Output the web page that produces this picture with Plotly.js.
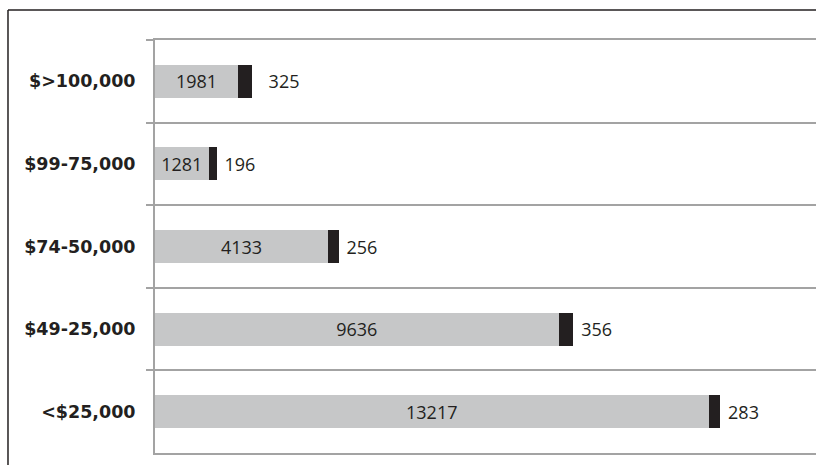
<!DOCTYPE html>
<html>
<head>
<meta charset="utf-8">
<script src="https://cdn.plot.ly/plotly-3.0.1.min.js"></script>
<style>
  html, body { margin: 0; padding: 0; background: #ffffff; }
  #chart { width: 816px; height: 465px; }
</style>
</head>
<body>
<div id="chart"></div>
<script>
const categories = ["$>100,000", "$99-75,000", "$74-50,000", "$49-25,000", "<$25,000"];
const greyValues = [1981, 1281, 4133, 9636, 13217];
const blackValues = [325, 196, 256, 356, 283];
const blackLabels = ["\u00a0\u00a0\u00a0325", "\u00a0196", "\u00a0256", "\u00a0356", "\u00a0283"];

const textFont = { family: "Open Sans, sans-serif", size: 18, color: "#231f20" };

const traces = [
  {
    type: "bar",
    orientation: "h",
    y: categories,
    x: greyValues,
    marker: { color: "#c6c7c8", line: { width: 0 } },
    text: greyValues.map(String),
    textposition: "inside",
    insidetextanchor: "middle",
    textfont: textFont,
    constraintext: "none",
    hoverinfo: "skip"
  },
  {
    type: "bar",
    orientation: "h",
    y: categories,
    x: blackValues,
    marker: { color: "#231f20", line: { width: 0 } },
    text: blackLabels,
    textposition: "outside",
    textfont: textFont,
    outsidetextfont: textFont,
    constraintext: "none",
    cliponaxis: false,
    hoverinfo: "skip"
  }
];

const layout = {
  width: 816,
  height: 465,
  margin: { l: 155, r: 0, t: 40, b: 12, pad: 0 },
  paper_bgcolor: "#ffffff",
  plot_bgcolor: "#ffffff",
  barmode: "stack",
  bargap: 0.6,
  showlegend: false,
  xaxis: {
    range: [0, 15783],
    showgrid: false,
    zeroline: false,
    showline: true,
    mirror: true,
    linecolor: "#a3a3a3",
    linewidth: 2,
    showticklabels: false,
    ticks: ""
  },
  yaxis: {
    type: "category",
    autorange: "reversed",
    tickson: "boundaries",
    ticks: "outside",
    ticklen: 7,
    tickwidth: 2,
    tickcolor: "#a3a3a3",
    showgrid: true,
    gridcolor: "#a3a3a3",
    gridwidth: 2,
    showline: true,
    linecolor: "#a3a3a3",
    linewidth: 2,
    zeroline: false,
    ticklabelstandoff: 14,
    tickfont: { family: "DejaVu Sans, sans-serif", size: 17.5, color: "#231f20", weight: "bold" }
  },
  shapes: [
    { type: "line", xref: "paper", yref: "paper", x0: -0.2224, x1: 1.05, y0: 1.0726, y1: 1.0726, line: { color: "#231f20", width: 1.5 } },
    { type: "line", xref: "paper", yref: "paper", x0: -0.2224, x1: -0.2224, y0: -0.05, y1: 1.0726, line: { color: "#231f20", width: 1.5 } }
  ]
};

Plotly.newPlot("chart", traces, layout, { displayModeBar: false, staticPlot: true });
</script>
</body>
</html>
